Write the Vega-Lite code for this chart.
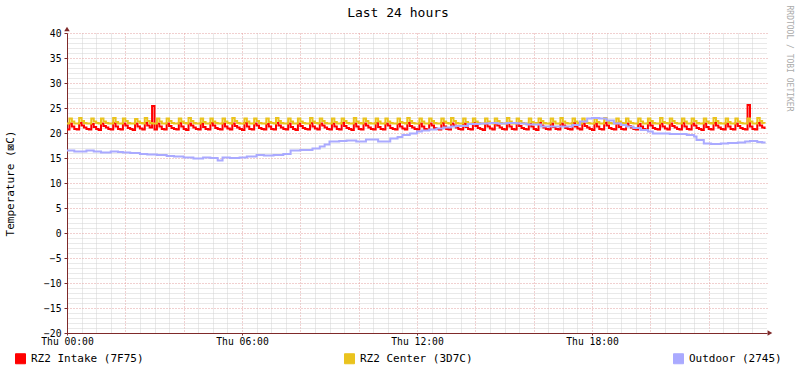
{
  "$schema": "https://vega.github.io/schema/vega-lite/v6.json",
  "width": 700,
  "height": 300,
  "autosize": {"type": "none"},
  "padding": {"left": 67, "top": 33, "right": 30, "bottom": 40},
  "background": "white",
  "title": {"text": "Last 24 hours", "font": "DejaVu Sans Mono", "fontSize": 13, "fontWeight": "normal", "color": "black", "anchor": "middle", "frame": "group", "dx": -19, "offset": -15},
  "config": {
    "view": {"stroke": null},
    "axis": {"labelFont": "DejaVu Sans Mono", "titleFont": "DejaVu Sans Mono", "labelColor": "black", "titleColor": "black"}
  },
  "datasets": {
    "rz": [
      {"m":0,"a":20.7,"b":21.9},
      {"m":5,"a":21.9,"b":22.9},{"m":10,"a":21.3,"b":22.3},{"m":15,"a":20.8,"b":21.9},{"m":20,"a":20.7,"b":21.9},
      {"m":25,"a":22.0,"b":23.0},{"m":30,"a":21.5,"b":22.4},{"m":35,"a":21.1,"b":22.0},{"m":40,"a":20.8,"b":21.9},{"m":45,"a":20.7,"b":21.9},
      {"m":50,"a":21.8,"b":22.9},{"m":55,"a":21.2,"b":22.3},{"m":60,"a":20.8,"b":22.0},{"m":65,"a":20.6,"b":21.9},
      {"m":70,"a":21.9,"b":22.9},{"m":75,"a":21.4,"b":22.3},{"m":80,"a":21.1,"b":22.0},{"m":85,"a":20.8,"b":21.9},{"m":90,"a":20.7,"b":21.9},
      {"m":95,"a":22.0,"b":23.0},{"m":100,"a":21.3,"b":22.2},{"m":105,"a":20.8,"b":21.9},{"m":110,"a":20.7,"b":21.9},
      {"m":115,"a":21.9,"b":22.9},{"m":120,"a":21.5,"b":22.4},{"m":125,"a":21.0,"b":22.0},{"m":130,"a":20.8,"b":21.9},{"m":135,"a":20.6,"b":21.9},
      {"m":140,"a":21.9,"b":22.8},{"m":145,"a":21.3,"b":22.3},{"m":150,"a":20.9,"b":22.0},{"m":155,"a":20.7,"b":21.9},
      {"m":160,"a":22.0,"b":23.0},{"m":165,"a":21.5,"b":22.4},{"m":170,"a":21.1,"b":22.0},{"m":175,"a":25.4,"b":21.9},{"m":180,"a":20.7,"b":21.9},
      {"m":185,"a":21.9,"b":22.9},{"m":190,"a":21.3,"b":22.3},{"m":195,"a":20.8,"b":21.9},{"m":200,"a":20.7,"b":21.9},
      {"m":205,"a":21.9,"b":22.9},{"m":210,"a":21.4,"b":22.4},{"m":215,"a":21.0,"b":22.0},{"m":220,"a":20.8,"b":21.9},{"m":225,"a":20.7,"b":21.9},
      {"m":230,"a":22.0,"b":22.9},{"m":235,"a":21.3,"b":22.3},{"m":240,"a":20.8,"b":22.0},{"m":245,"a":20.6,"b":21.9},
      {"m":250,"a":21.9,"b":23.0},{"m":255,"a":21.5,"b":22.4},{"m":260,"a":21.1,"b":22.0},{"m":265,"a":20.8,"b":21.9},{"m":270,"a":20.7,"b":21.9},
      {"m":275,"a":21.9,"b":22.9},{"m":280,"a":21.2,"b":22.2},{"m":285,"a":20.8,"b":21.9},{"m":290,"a":20.7,"b":21.9},
      {"m":295,"a":22.0,"b":22.9},{"m":300,"a":21.5,"b":22.3},{"m":305,"a":21.0,"b":22.0},{"m":310,"a":20.8,"b":21.9},{"m":315,"a":20.7,"b":21.9},
      {"m":320,"a":21.9,"b":22.9},{"m":325,"a":21.3,"b":22.3},{"m":330,"a":20.9,"b":22.0},{"m":335,"a":20.7,"b":21.9},
      {"m":340,"a":21.9,"b":23.0},{"m":345,"a":21.4,"b":22.4},{"m":350,"a":21.1,"b":22.0},{"m":355,"a":20.8,"b":21.9},{"m":360,"a":20.6,"b":21.9},
      {"m":365,"a":22.0,"b":22.9},{"m":370,"a":21.3,"b":22.3},{"m":375,"a":20.8,"b":21.9},{"m":380,"a":20.7,"b":21.9},
      {"m":385,"a":21.9,"b":22.9},{"m":390,"a":21.5,"b":22.4},{"m":395,"a":21.0,"b":22.0},{"m":400,"a":20.8,"b":21.9},{"m":405,"a":20.7,"b":21.9},
      {"m":410,"a":21.8,"b":22.9},{"m":415,"a":21.3,"b":22.2},{"m":420,"a":20.8,"b":22.0},{"m":425,"a":20.7,"b":21.9},
      {"m":430,"a":22.0,"b":23.0},{"m":435,"a":21.5,"b":22.4},{"m":440,"a":21.1,"b":22.0},{"m":445,"a":20.8,"b":21.9},{"m":450,"a":20.7,"b":21.9},
      {"m":455,"a":21.9,"b":22.9},{"m":460,"a":21.2,"b":22.3},{"m":465,"a":20.8,"b":21.9},{"m":470,"a":20.6,"b":21.9},
      {"m":475,"a":21.9,"b":22.9},{"m":480,"a":21.4,"b":22.3},{"m":485,"a":21.0,"b":22.0},{"m":490,"a":20.8,"b":21.9},{"m":495,"a":20.7,"b":21.9},
      {"m":500,"a":22.0,"b":23.0},{"m":505,"a":21.3,"b":22.3},{"m":510,"a":20.9,"b":22.0},{"m":515,"a":20.7,"b":21.9},
      {"m":520,"a":21.9,"b":22.9},{"m":525,"a":21.5,"b":22.4},{"m":530,"a":21.1,"b":22.0},{"m":535,"a":20.8,"b":21.9},{"m":540,"a":20.7,"b":21.9},
      {"m":545,"a":21.9,"b":22.9},{"m":550,"a":21.3,"b":22.2},{"m":555,"a":20.8,"b":21.9},{"m":560,"a":20.7,"b":21.9},
      {"m":565,"a":22.0,"b":22.9},{"m":570,"a":21.4,"b":22.4},{"m":575,"a":21.0,"b":22.0},{"m":580,"a":20.8,"b":21.9},{"m":585,"a":20.6,"b":21.9},
      {"m":590,"a":21.9,"b":23.0},{"m":595,"a":21.3,"b":22.3},{"m":600,"a":20.8,"b":22.0},{"m":605,"a":20.7,"b":21.9},
      {"m":610,"a":21.9,"b":22.9},{"m":615,"a":21.5,"b":22.4},{"m":620,"a":21.1,"b":22.0},{"m":625,"a":20.8,"b":21.9},{"m":630,"a":20.7,"b":21.9},
      {"m":635,"a":22.0,"b":22.9},{"m":640,"a":21.2,"b":22.3},{"m":645,"a":20.8,"b":21.9},{"m":650,"a":20.7,"b":21.9},
      {"m":655,"a":21.9,"b":22.9},{"m":660,"a":21.5,"b":22.3},{"m":665,"a":21.0,"b":22.0},{"m":670,"a":20.8,"b":21.9},{"m":675,"a":20.7,"b":21.9},
      {"m":680,"a":21.8,"b":22.9},{"m":685,"a":21.3,"b":22.2},{"m":690,"a":20.9,"b":22.0},{"m":695,"a":20.7,"b":21.9},
      {"m":700,"a":22.0,"b":23.0},{"m":705,"a":21.4,"b":22.4},{"m":710,"a":21.1,"b":22.0},{"m":715,"a":20.8,"b":21.9},{"m":720,"a":20.7,"b":21.9},
      {"m":725,"a":21.9,"b":22.9},{"m":730,"a":21.3,"b":22.3},{"m":735,"a":20.8,"b":21.9},{"m":740,"a":20.6,"b":21.9},
      {"m":745,"a":21.9,"b":22.9},{"m":750,"a":21.5,"b":22.4},{"m":755,"a":21.0,"b":22.0},{"m":760,"a":20.8,"b":21.9},{"m":765,"a":20.7,"b":21.9},
      {"m":770,"a":22.0,"b":22.9},{"m":775,"a":21.3,"b":22.3},{"m":780,"a":20.8,"b":22.0},{"m":785,"a":20.7,"b":21.9},
      {"m":790,"a":21.9,"b":23.0},{"m":795,"a":21.5,"b":22.4},{"m":800,"a":21.1,"b":22.0},{"m":805,"a":20.8,"b":21.9},{"m":810,"a":20.7,"b":21.9},
      {"m":815,"a":21.9,"b":22.9},{"m":820,"a":21.2,"b":22.2},{"m":825,"a":20.8,"b":21.9},{"m":830,"a":20.7,"b":21.9},
      {"m":835,"a":22.0,"b":22.9},{"m":840,"a":21.4,"b":22.3},{"m":845,"a":21.0,"b":22.0},{"m":850,"a":20.8,"b":21.9},{"m":855,"a":20.6,"b":21.9},
      {"m":860,"a":21.9,"b":22.9},{"m":865,"a":21.3,"b":22.3},{"m":870,"a":20.9,"b":22.0},{"m":875,"a":20.7,"b":21.9},
      {"m":880,"a":21.9,"b":22.9},{"m":885,"a":21.5,"b":22.4},{"m":890,"a":21.1,"b":22.0},{"m":895,"a":20.8,"b":21.9},{"m":900,"a":20.7,"b":21.9},
      {"m":905,"a":22.0,"b":23.0},{"m":910,"a":21.3,"b":22.3},{"m":915,"a":20.8,"b":21.9},{"m":920,"a":20.7,"b":21.9},
      {"m":925,"a":21.9,"b":22.9},{"m":930,"a":21.4,"b":22.4},{"m":935,"a":21.0,"b":22.0},{"m":940,"a":20.8,"b":21.9},{"m":945,"a":20.7,"b":21.9},
      {"m":950,"a":21.8,"b":22.9},{"m":955,"a":21.3,"b":22.2},{"m":960,"a":20.8,"b":22.0},{"m":965,"a":20.6,"b":21.9},
      {"m":970,"a":22.0,"b":22.9},{"m":975,"a":21.5,"b":22.4},{"m":980,"a":21.1,"b":22.0},{"m":985,"a":20.8,"b":21.9},{"m":990,"a":20.7,"b":21.9},
      {"m":995,"a":21.9,"b":22.9},{"m":1000,"a":21.2,"b":22.3},{"m":1005,"a":20.8,"b":21.9},{"m":1010,"a":20.7,"b":21.9},
      {"m":1015,"a":21.9,"b":23.0},{"m":1020,"a":21.5,"b":22.3},{"m":1025,"a":21.0,"b":22.0},{"m":1030,"a":20.8,"b":21.9},{"m":1035,"a":20.7,"b":21.9},
      {"m":1040,"a":22.0,"b":22.9},{"m":1045,"a":21.3,"b":22.3},{"m":1050,"a":20.9,"b":22.0},{"m":1055,"a":20.7,"b":21.9},
      {"m":1060,"a":21.9,"b":22.9},{"m":1065,"a":21.4,"b":22.4},{"m":1070,"a":21.1,"b":22.0},{"m":1075,"a":20.8,"b":21.9},{"m":1080,"a":20.6,"b":21.9},
      {"m":1085,"a":21.9,"b":22.9},{"m":1090,"a":21.3,"b":22.2},{"m":1095,"a":20.8,"b":21.9},{"m":1100,"a":20.7,"b":21.9},
      {"m":1105,"a":22.0,"b":23.0},{"m":1110,"a":21.5,"b":22.4},{"m":1115,"a":21.0,"b":22.0},{"m":1120,"a":20.8,"b":21.9},{"m":1125,"a":20.7,"b":21.9},
      {"m":1130,"a":21.9,"b":22.9},{"m":1135,"a":21.2,"b":22.3},{"m":1140,"a":20.8,"b":22.0},{"m":1145,"a":20.7,"b":21.9},
      {"m":1150,"a":21.9,"b":22.9},{"m":1155,"a":21.4,"b":22.3},{"m":1160,"a":21.1,"b":22.0},{"m":1165,"a":20.8,"b":21.9},{"m":1170,"a":20.7,"b":21.9},
      {"m":1175,"a":21.8,"b":22.9},{"m":1180,"a":21.3,"b":22.3},{"m":1185,"a":20.8,"b":21.9},{"m":1190,"a":20.6,"b":21.9},
      {"m":1195,"a":22.0,"b":22.9},{"m":1200,"a":21.5,"b":22.4},{"m":1205,"a":21.0,"b":22.0},{"m":1210,"a":20.8,"b":21.9},{"m":1215,"a":20.7,"b":21.9},
      {"m":1220,"a":21.9,"b":23.0},{"m":1225,"a":21.3,"b":22.2},{"m":1230,"a":20.9,"b":22.0},{"m":1235,"a":20.7,"b":21.9},
      {"m":1240,"a":21.9,"b":22.9},{"m":1245,"a":21.4,"b":22.4},{"m":1250,"a":21.1,"b":22.0},{"m":1255,"a":20.8,"b":21.9},{"m":1260,"a":20.7,"b":21.9},
      {"m":1265,"a":22.0,"b":22.9},{"m":1270,"a":21.3,"b":22.3},{"m":1275,"a":20.8,"b":21.9},{"m":1280,"a":20.7,"b":21.9},
      {"m":1285,"a":21.9,"b":22.9},{"m":1290,"a":21.5,"b":22.4},{"m":1295,"a":21.0,"b":22.0},{"m":1300,"a":20.8,"b":21.9},{"m":1305,"a":20.6,"b":21.9},
      {"m":1310,"a":21.9,"b":22.9},{"m":1315,"a":21.2,"b":22.3},{"m":1320,"a":20.8,"b":22.0},{"m":1325,"a":20.7,"b":21.9},
      {"m":1330,"a":22.0,"b":23.0},{"m":1335,"a":21.5,"b":22.4},{"m":1340,"a":21.1,"b":22.0},{"m":1345,"a":20.8,"b":21.9},{"m":1350,"a":20.7,"b":21.9},
      {"m":1355,"a":21.9,"b":22.9},{"m":1360,"a":21.3,"b":22.2},{"m":1365,"a":20.8,"b":21.9},{"m":1370,"a":20.7,"b":21.9},
      {"m":1375,"a":21.9,"b":22.9},{"m":1380,"a":21.4,"b":22.3},{"m":1385,"a":21.0,"b":22.0},{"m":1390,"a":20.8,"b":21.9},{"m":1395,"a":20.7,"b":21.9},
      {"m":1400,"a":25.6,"b":22.9},{"m":1405,"a":21.3,"b":22.3},{"m":1410,"a":20.8,"b":21.9},{"m":1415,"a":20.7,"b":21.9},
      {"m":1420,"a":22.0,"b":23.0},{"m":1425,"a":21.5,"b":22.4},{"m":1430,"a":21.1,"b":22.0},{"m":1435,"a":20.8,"b":21.9}
    ],
    "out": [
      {"m":0,"v":16.5},{"m":15,"v":16.3},{"m":25,"v":16.3},{"m":40,"v":16.5},{"m":55,"v":16.3},{"m":70,"v":16.1},{"m":90,"v":16.3},{"m":105,"v":16.2},{"m":115,"v":16.1},{"m":130,"v":16.0},
      {"m":150,"v":15.8},{"m":165,"v":15.7},{"m":185,"v":15.6},{"m":205,"v":15.4},{"m":220,"v":15.3},{"m":240,"v":15.1},{"m":260,"v":14.9},{"m":280,"v":15.1},{"m":295,"v":15.0},{"m":310,"v":14.5},
      {"m":320,"v":15.1},{"m":335,"v":15.0},{"m":355,"v":15.1},{"m":370,"v":15.3},{"m":390,"v":15.6},{"m":405,"v":15.5},{"m":425,"v":15.6},{"m":445,"v":15.8},{"m":460,"v":16.5},{"m":480,"v":16.6},
      {"m":495,"v":16.6},{"m":505,"v":16.9},{"m":520,"v":17.3},{"m":530,"v":17.7},{"m":540,"v":18.3},{"m":560,"v":18.4},{"m":575,"v":18.5},{"m":595,"v":18.3},{"m":615,"v":18.7},{"m":640,"v":18.3},
      {"m":665,"v":18.9},{"m":680,"v":19.2},{"m":690,"v":19.6},{"m":705,"v":19.9},{"m":720,"v":20.3},{"m":730,"v":20.5},{"m":745,"v":20.7},{"m":760,"v":20.9},{"m":775,"v":21.1},{"m":790,"v":21.3},
      {"m":800,"v":21.4},{"m":825,"v":21.8},{"m":850,"v":21.9},{"m":870,"v":22.0},{"m":885,"v":21.9},{"m":905,"v":22.0},{"m":925,"v":21.9},{"m":945,"v":21.7},{"m":975,"v":21.3},{"m":995,"v":21.3},
      {"m":1015,"v":21.3},{"m":1040,"v":21.6},{"m":1055,"v":22.3},{"m":1070,"v":22.9},{"m":1080,"v":23.0},{"m":1095,"v":22.9},{"m":1110,"v":22.5},{"m":1125,"v":21.9},{"m":1140,"v":21.6},{"m":1150,"v":21.3},
      {"m":1165,"v":21.0},{"m":1180,"v":20.6},{"m":1195,"v":20.3},{"m":1205,"v":19.9},{"m":1220,"v":19.9},{"m":1240,"v":19.8},{"m":1260,"v":19.8},{"m":1275,"v":19.6},{"m":1290,"v":19.3},{"m":1295,"v":18.6},
      {"m":1310,"v":17.9},{"m":1325,"v":17.8},{"m":1345,"v":17.9},{"m":1360,"v":18.0},{"m":1380,"v":18.1},{"m":1395,"v":18.3},{"m":1405,"v":18.4},{"m":1420,"v":18.2},{"m":1430,"v":18.1},{"m":1435,"v":17.9}
    ]
  },
  "layer": [
    {
      "data": {"name": "rz"},
      "mark": {"type": "line", "strokeWidth": 2, "interpolate": "step-after"},
      "encoding": {
        "x": {"field": "m", "type": "quantitative", "scale": {"domain": [0, 1440], "nice": false, "zero": false},
          "axis": {"orient": "bottom", "values": [0, 360, 720, 1080], "labelExpr": "'Thu ' + (floor(datum.value/60) < 10 ? '0' : '') + floor(datum.value/60) + ':00'", "grid": false, "domainColor": "#7F2A2A", "tickColor": "#7F2A2A", "tickSize": 2, "labelPadding": 1, "labelFontSize": 9.7, "labelFlush": false, "title": null}},
        "y": {"field": "a", "type": "quantitative", "scale": {"domain": [-20, 40], "nice": false, "zero": false},
          "axis": {"orient": "left", "values": [-20, -15, -10, -5, 0, 5, 10, 15, 20, 25, 30, 35, 40], "grid": false, "domainColor": "#7F2A2A", "tickColor": "#7F2A2A", "tickSize": 3, "labelPadding": 3, "labelFontSize": 9.7,
            "title": "Temperature (⊠C)", "titleFontSize": 11, "titleFontWeight": "normal", "titleAngle": -90, "titleAlign": "center", "titleBaseline": "middle", "titleX": -57, "titleY": 150}},
        "color": {"datum": "RZ2 Intake (7F75)", "type": "nominal",
          "scale": {"domain": ["RZ2 Intake (7F75)", "RZ2 Center (3D7C)", "Outdoor (2745)"], "range": ["#FF0000", "#EAC31E", "#AAAAFF"]},
          "legend": {"orient": "none", "legendX": -52, "legendY": 320, "direction": "horizontal", "columns": 3, "columnPadding": 198, "title": null, "padding": 0,
            "labelFont": "DejaVu Sans Mono", "labelFontSize": 11, "labelColor": "black", "labelOffset": 5, "labelLimit": 300,
            "symbolType": "square", "symbolSize": 100, "symbolStrokeColor": "black", "symbolStrokeWidth": 1,
            "encode": {"symbols": {"update": {"fill": {"scale": "color", "field": "value"}, "stroke": {"value": "black"}, "strokeWidth": {"value": 1}, "shape": {"value": "square"}, "size": {"value": 100}, "opacity": {"value": 1}}}}}}
      }
    },
    {
      "data": {"name": "rz"},
      "mark": {"type": "line", "strokeWidth": 2, "interpolate": "step-after"},
      "encoding": {
        "x": {"field": "m", "type": "quantitative", "scale": {"domain": [0, 1440], "nice": false, "zero": false},
          "axis": {"orient": "bottom", "values": [120, 240, 360, 480, 600, 720, 840, 960, 1080, 1200, 1320], "grid": true, "gridColor": "#E3A0A0", "gridDash": [1, 2], "gridWidth": 1, "labels": false, "ticks": false, "domain": false, "title": null}},
        "y": {"field": "b", "type": "quantitative", "scale": {"domain": [-20, 40], "nice": false, "zero": false},
          "axis": {"orient": "left", "values": [-15, -10, -5, 0, 5, 10, 15, 20, 25, 30, 35, 40], "grid": true, "gridColor": "#E3A0A0", "gridDash": [1, 2], "gridWidth": 1, "labels": false, "ticks": false, "domain": false, "title": null}},
        "color": {"datum": "RZ2 Center (3D7C)", "type": "nominal"}
      }
    },
    {
      "data": {"name": "out"},
      "mark": {"type": "line", "strokeWidth": 2, "interpolate": "step-after"},
      "encoding": {
        "x": {"field": "m", "type": "quantitative", "scale": {"domain": [0, 1440], "nice": false, "zero": false},
          "axis": {"orient": "bottom", "values": [30, 60, 90, 150, 180, 210, 270, 300, 330, 390, 420, 450, 510, 540, 570, 630, 660, 690, 750, 780, 810, 870, 900, 930, 990, 1020, 1050, 1110, 1140, 1170, 1230, 1260, 1290, 1350, 1380, 1410], "grid": true, "gridColor": "#D2D2D2", "gridDash": [1, 1], "gridWidth": 1, "labels": false, "ticks": false, "domain": false, "title": null}},
        "y": {"field": "v", "type": "quantitative", "scale": {"domain": [-20, 40], "nice": false, "zero": false},
          "axis": {"orient": "left", "values": [-19, -18, -17, -16, -14, -13, -12, -11, -9, -8, -7, -6, -4, -3, -2, -1, 1, 2, 3, 4, 6, 7, 8, 9, 11, 12, 13, 14, 16, 17, 18, 19, 21, 22, 23, 24, 26, 27, 28, 29, 31, 32, 33, 34, 36, 37, 38, 39], "grid": true, "gridColor": "#D2D2D2", "gridDash": [1, 1], "gridWidth": 1, "labels": false, "ticks": false, "domain": false, "title": null}},
        "color": {"datum": "Outdoor (2745)", "type": "nominal"}
      }
    },
    {
      "data": {"values": [{}]},
      "mark": {"type": "point", "shape": "triangle-up", "filled": true, "size": 30, "color": "#7F2A2A", "opacity": 1},
      "encoding": {
        "x": {"datum": 0, "type": "quantitative", "scale": {"domain": [0, 1440], "nice": false, "zero": false}, "axis": null},
        "y": {"datum": 40.8, "type": "quantitative", "scale": {"domain": [-20, 40], "nice": false, "zero": false},
          "axis": {"orient": "right", "labels": false, "ticks": false, "domain": false, "grid": false, "title": "RRDTOOL / TOBI OETIKER", "titleAngle": 90, "titleFont": "DejaVu Sans Mono", "titleFontSize": 8, "titleFontWeight": "normal", "titleColor": "#AAAAAA", "titleAlign": "left", "titleBaseline": "middle", "titleX": 21, "titleY": -28}}
      }
    },
    {
      "data": {"values": [{}]},
      "mark": {"type": "point", "shape": "triangle-right", "filled": true, "size": 30, "color": "#7F2A2A", "opacity": 1},
      "encoding": {
        "x": {"datum": 1446, "type": "quantitative", "scale": {"domain": [0, 1440], "nice": false, "zero": false}, "axis": null},
        "y": {"datum": -20, "type": "quantitative", "scale": {"domain": [-20, 40], "nice": false, "zero": false}, "axis": null}
      }
    }
  ],
  "resolve": {"axis": {"x": "independent", "y": "independent"}}
}
